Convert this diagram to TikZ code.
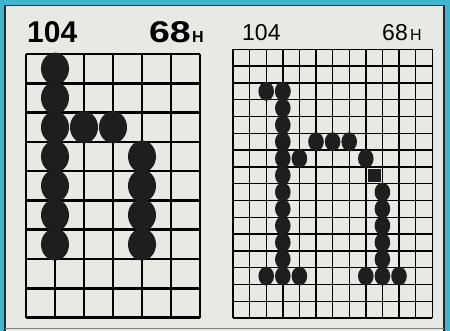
\documentclass[tikz,border=0pt]{standalone}
\usepackage{fontspec}
\setmainfont{Liberation Sans}
\definecolor{framecyan}{HTML}{3DB6CE}
\definecolor{paper}{HTML}{E9E9E3}
\definecolor{ink}{HTML}{1E1E1E}
\tikzset{
	coarse/.style={line width=2.6pt, black},
	fine/.style={line width=1.4pt, black},
	bigdot/.style={fill=ink},
	label/.style={inner sep=0pt, anchor=base west}
}
\begin{document}
\begin{tikzpicture}[x=1pt,y=-1pt]
	  \useasboundingbox (0,0) rectangle (450,331);
	  \fill[framecyan] (0,0) rectangle (450,331);
	  \fill[paper] (5,5.5) rectangle (444,331);
	  \draw[line width=1.8pt, black!85] (5,331) -- (5,5.5) -- (444,5.5) -- (444,331);
	  \draw[gray, thin] (5,327.8) -- (444,327.8);

	  % left: coarse matrix
	  \begin{scope}[shift={(26,54)}, x=29pt, y=-29.3pt]
	  \foreach \c in {0,...,6} \draw[coarse] (\c,0) -- (\c,9);
	  \foreach \r in {0,...,9} \draw[coarse] (0,\r) -- (6,\r);
	  \foreach \r in {0,...,6} \fill[bigdot] (1,\r+0.5) ellipse [x radius=14pt, y radius=16pt];
	  \foreach \c in {2,3} \fill[bigdot] (\c,2.5) ellipse [x radius=14pt, y radius=16pt];
	  \foreach \r in {3,...,6} \fill[bigdot] (4,\r+0.5) ellipse [x radius=14pt, y radius=16pt];
	  \end{scope}

	  % right: fine matrix
	  \begin{scope}[shift={(233,49.3)}, x=16.6pt, y=-16.8pt]
	  \foreach \c in {0,...,12} \draw[fine] (\c,0) -- (\c,16);
	  \foreach \r in {0,...,16} \draw[fine] (0,\r) -- (12,\r);
	  \foreach \c in {2,3} \fill[bigdot] (\c,2.5) ellipse [x radius=7.8pt, y radius=9.4pt];
	  \foreach \r in {2,...,13} \fill[bigdot] (3,\r+0.5) ellipse [x radius=7.8pt, y radius=9.4pt];
	  \foreach \c in {2,4} \fill[bigdot] (\c,13.5) ellipse [x radius=7.8pt, y radius=9.4pt];
	  \foreach \c in {5,6,7} \fill[bigdot] (\c,5.5) ellipse [x radius=7.8pt, y radius=9.4pt];
	  \foreach \c in {4,8} \fill[bigdot] (\c,6.5) ellipse [x radius=7.8pt, y radius=9.4pt];
	  \fill[bigdot] (8.5,7.5) +(-6.5pt,-6.5pt) rectangle +(6.5pt,6.5pt);
	  \foreach \r in {8,...,13} \fill[bigdot] (9,\r+0.5) ellipse [x radius=7.8pt, y radius=9.4pt];
	  \foreach \c in {8,10} \fill[bigdot] (\c,13.5) ellipse [x radius=7.8pt, y radius=9.4pt];
	  \end{scope}

	  \node[label, font=\bfseries\fontsize{30}{30}\selectfont] (leftdec) at (27,43) {104};
	  \node[label, anchor=base east, font=\bfseries\fontsize{30}{30}\selectfont, xscale=1.25] (lefthex) at (191,43) {68};
	  \node[label, font=\bfseries\fontsize{16}{16}\selectfont] (lefth) at (192,43) {H};
	  \node[label, font=\fontsize{23}{23}\selectfont] (rightdec) at (242,41) {104};
	  \node[label, anchor=base east, font=\fontsize{23}{23}\selectfont] (righthex) at (408,41) {68};
	  \node[label, font=\fontsize{16}{16}\selectfont] (righth) at (410,41) {H};
\end{tikzpicture}
\end{document}
